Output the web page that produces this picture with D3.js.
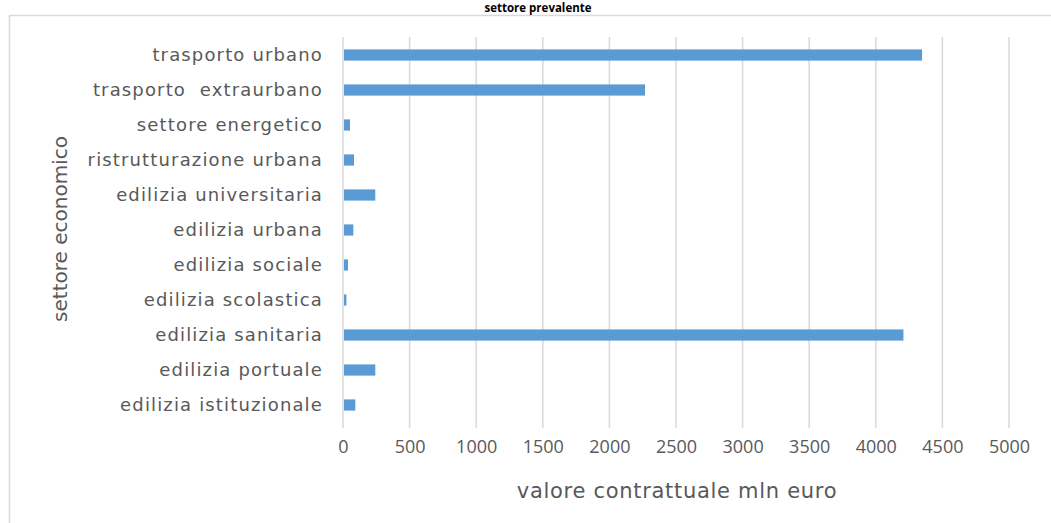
<!DOCTYPE html>
<html><head><meta charset="utf-8">
<script src="https://cdn.jsdelivr.net/npm/d3@7"></script>
<style>body{margin:0;background:#fff}svg{display:block}</style>
</head><body>
<script>
const categories = ["trasporto urbano","trasporto  extraurbano","settore energetico","ristrutturazione urbana","edilizia universitaria","edilizia urbana","edilizia sociale","edilizia scolastica","edilizia sanitaria","edilizia portuale","edilizia istituzionale"];
const values = [4340, 2260, 45, 75, 235, 70, 30, 18, 4200, 235, 85];
const xTicks = [0,500,1000,1500,2000,2500,3000,3500,4000,4500,5000];
const title = "settore prevalente";
const xTitle = "valore contrattuale mln euro";
const yTitle = "settore economico";

const W = 1051, H = 523;
const svg = d3.select("body").append("svg").attr("width", W).attr("height", H);
const font = "'Open Sans', sans-serif";
const wide = "'DejaVu Sans', sans-serif";
const grey = "#595959";

svg.append("rect").attr("x", 9.5).attr("y", 15.5).attr("width", 1100).attr("height", 600)
  .attr("fill", "none").attr("stroke", "#d9d9d9").attr("stroke-width", 1.5);

svg.append("text").attr("x", 538).attr("y", 12).attr("text-anchor", "middle")
  .attr("font-family", font).attr("font-weight", "bold").attr("font-size", 11.5).attr("fill", "#000").text(title);

const x = d3.scaleLinear().domain([0, 5000]).range([343, 1009]);
const y = d3.scaleBand().domain(categories).range([37.5, 422.5]).paddingInner(0.68).paddingOuter(0.34);

svg.append("g").selectAll("line").data(xTicks).join("line")
  .attr("x1", d => x(d)).attr("x2", d => x(d)).attr("y1", 37).attr("y2", 428)
  .attr("stroke", "#d9d9d9").attr("stroke-width", 1.5);

svg.append("g").selectAll("rect").data(categories).join("rect")
  .attr("x", x(0) + 1).attr("y", d => y(d))
  .attr("width", (d, i) => x(values[i]) - x(0)).attr("height", y.bandwidth())
  .attr("fill", "#5b9bd5");

const xAxis = svg.append("g").attr("transform", "translate(0,428)")
  .call(d3.axisBottom(x).tickValues(xTicks).tickSize(0).tickPadding(12).tickFormat(d3.format("d")));
xAxis.select(".domain").remove();
xAxis.selectAll("text").attr("font-family", font).attr("font-size", 18).attr("fill", grey);

const yAxis = svg.append("g").attr("transform", "translate(343,0)")
  .call(d3.axisLeft(y).tickSize(0).tickPadding(20));
yAxis.select(".domain").remove();
yAxis.selectAll("text").attr("font-family", wide).attr("font-size", 18).attr("letter-spacing", 1.15)
  .attr("fill", grey).style("white-space", "pre");

svg.append("text").attr("x", 677).attr("y", 498).attr("text-anchor", "middle")
  .attr("font-family", wide).attr("font-size", 21).attr("letter-spacing", 0.7).attr("fill", grey).text(xTitle);

svg.append("text").attr("transform", "translate(67,229) rotate(-90)").attr("text-anchor", "middle")
  .attr("font-family", wide).attr("font-size", 20).attr("fill", grey).text(yTitle);
</script>
</body></html>
